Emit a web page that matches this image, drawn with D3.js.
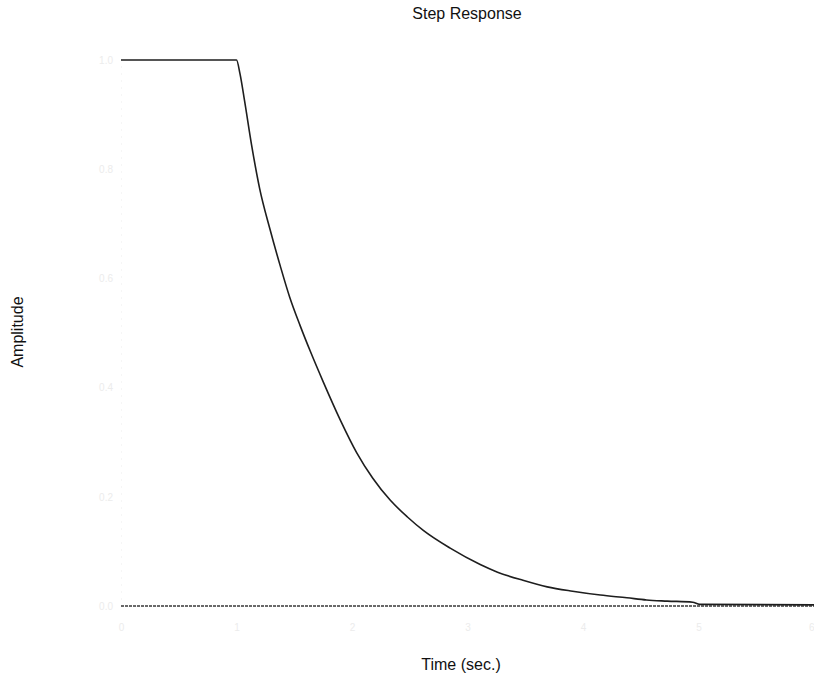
<!DOCTYPE html>
<html>
<head>
<meta charset="utf-8">
<script src="https://cdn.jsdelivr.net/npm/d3@7"></script>
<style>
  html, body { margin: 0; padding: 0; background: #fff; }
  svg { display: block; }
</style>
</head>
<body>
<svg id="chart" width="814" height="675"></svg>
<script>
// Step response samples: time (sec.) and amplitude
const timeSec = [0, 1.0, 1.03, 1.07, 1.13, 1.2, 1.29, 1.38, 1.46, 1.55, 1.64, 1.75, 1.9, 2.04,
  2.18, 2.33, 2.48, 2.62, 2.85, 3.11, 3.26, 3.48, 3.69, 3.91, 4.15, 4.38, 4.55, 4.73, 4.95, 5.01, 6.0];
const amplitude = [1, 1, 0.975, 0.925, 0.845, 0.765, 0.69, 0.622, 0.566, 0.514, 0.466, 0.411, 0.34, 0.281,
  0.234, 0.194, 0.163, 0.138, 0.106, 0.076, 0.062, 0.047, 0.035, 0.027, 0.020, 0.015, 0.011, 0.009, 0.007, 0.003, 0.002];

// Zero reference line
const baselineTime = [0, 6];
const baselineAmp = [0, 0];

// Axis ticks (printed very faintly)
const xTicks = [0, 1, 2, 3, 4, 5, 6];
const yTicks = [0, 0.2, 0.4, 0.6, 0.8, 1];

const svg = d3.select("#chart");
const x = d3.scaleLinear().domain([0, 6]).range([121, 814]);
const y = d3.scaleLinear().domain([0, 1]).range([606, 60]);
const font = "Liberation Sans, Arial, sans-serif";

// Faint axes
const faint = "#ececec";
const xAxis = svg.append("g")
  .attr("transform", `translate(0,${y(0)})`)
  .call(d3.axisBottom(x).tickValues(xTicks).tickSize(0).tickPadding(18).tickFormat(d3.format("d")));
const yAxis = svg.append("g")
  .attr("transform", `translate(${x(0)},0)`)
  .call(d3.axisLeft(y).tickValues(yTicks).tickSize(0).tickPadding(8).tickFormat(d3.format(".1f")));
[xAxis, yAxis].forEach(g => {
  g.select(".domain").attr("stroke", faint).attr("stroke-dasharray", "1,6");
  g.selectAll("text").attr("fill", faint).attr("font-family", font).attr("font-size", 10);
});
// keep the last time label inside the frame
xAxis.selectAll(".tick text").filter(d => d === xTicks[xTicks.length - 1]).attr("text-anchor", "end");

// Zero line
const line = d3.line().x(d => x(d[0])).y(d => y(d[1]));
svg.append("path")
  .datum(d3.zip(baselineTime, baselineAmp))
  .attr("d", line)
  .attr("fill", "none")
  .attr("stroke", "#3a3a3a")
  .attr("stroke-width", 1.4)
  .attr("stroke-dasharray", "3,1");

// Response curve
svg.append("path")
  .datum(d3.zip(timeSec, amplitude))
  .attr("d", d3.line().x(d => x(d[0])).y(d => y(d[1])).curve(d3.curveMonotoneX))
  .attr("fill", "none")
  .attr("stroke", "#1e1e1e")
  .attr("stroke-width", 1.6);

// Titles
svg.append("text")
  .attr("x", 467).attr("y", 19)
  .attr("text-anchor", "middle")
  .attr("font-family", font).attr("font-size", 16)
  .attr("fill", "#111")
  .text("Step Response");

svg.append("text")
  .attr("x", 461).attr("y", 670)
  .attr("text-anchor", "middle")
  .attr("font-family", font).attr("font-size", 16)
  .attr("fill", "#111")
  .text("Time (sec.)");

svg.append("text")
  .attr("transform", "translate(23,332) rotate(-90)")
  .attr("text-anchor", "middle")
  .attr("font-family", font).attr("font-size", 16)
  .attr("fill", "#111")
  .text("Amplitude");
</script>
</body>
</html>
